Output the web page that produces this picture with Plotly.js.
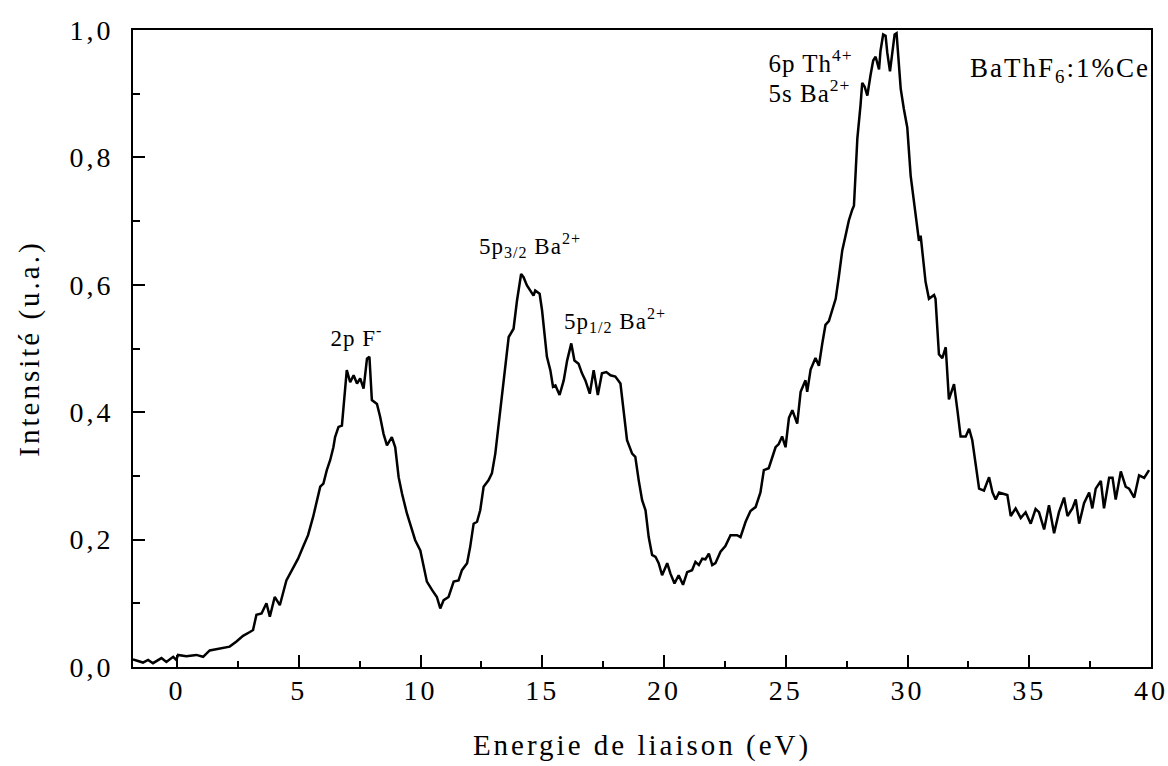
<!DOCTYPE html>
<html>
<head>
<meta charset="utf-8">
<script src="https://cdn.plot.ly/plotly-3.0.1.min.js"></script>
<style>
html,body{margin:0;padding:0;background:#fff;}
#chart{width:1168px;height:766px;}
#chart g.xtick text, #chart g.ytick text { letter-spacing: 3px; }
#chart text.xtitle, #chart text.ytitle { letter-spacing: 3px; }
#chart g.annotation text { letter-spacing: 1px; }
#chart g.annotation[data-index="5"] text { letter-spacing: 2px; }
</style>
</head>
<body>
<div id="chart"></div>
<script>
// Binding energy (eV)
const energy = [
 -1.81,-1.40,-1.19,-0.99,-0.64,-0.44,-0.16,-0.03,0.04,0.38,0.79,1.07,1.34,1.75,2.16,2.44,2.71,2.99,3.12,3.26,3.47,3.67,3.81,4.01,4.22,4.49,4.77,4.97,5.18,5.38,5.59,5.80,
 5.88,6.01,6.15,6.29,6.42,6.49,6.63,6.77,6.84,6.97,7.11,7.25,7.39,7.52,7.66,7.80,7.90,8.00,8.21,8.34,8.48,8.62,8.82,8.96,9.10,9.24,9.44,9.58,9.78,9.99,10.12,10.26,10.47,10.67,10.81,10.95,11.15,11.36,11.56,11.70,11.91,12.04,12.18,12.32,12.45,12.59,12.79,12.93,13.07,13.21,13.35,13.48,
 13.62,13.82,13.96,14.13,14.23,14.37,14.51,14.64,14.71,14.89,14.99,15.10,15.19,15.33,15.44,15.54,15.71,15.88,16.02,16.19,16.32,16.49,16.63,16.77,16.95,17.11,17.28,17.45,17.63,17.80,18.00,18.21,18.34,18.48,18.69,18.82,18.96,19.10,19.24,19.37,19.51,19.65,19.78,19.92,20.13,20.26,20.43,20.60,20.78,20.95,21.15,21.29,21.43,
 21.57,21.70,21.84,21.98,22.11,22.32,22.52,22.73,23.00,23.14,23.35,23.55,23.76,23.96,24.10,24.30,24.44,24.58,24.71,24.85,24.99,25.13,25.27,25.47,25.61,25.81,25.88,26.02,26.22,26.36,26.50,26.63,26.77,26.91,27.05,27.18,27.32,27.46,27.59,27.73,27.80,27.87,27.94,28.07,28.14,28.24,28.35,28.48,28.59,28.69,28.83,28.89,29.00,29.10,29.17,29.28,29.37,29.47,29.55,29.65,29.72,29.85,29.99,30.13,30.26,30.40,30.47,30.54,30.61,
 30.74,30.88,31.09,31.15,31.29,31.43,31.57,31.70,31.91,32.05,32.18,32.39,32.53,32.66,32.80,32.94,33.14,33.35,33.49,33.62,33.76,33.96,34.10,34.24,34.44,34.65,34.85,35.06,35.26,35.40,35.61,35.81,36.02,36.22,36.43,36.57,36.77,36.91,37.05,37.25,37.46,37.59,37.73,37.94,38.07,38.28,38.42,38.55,38.76,38.96,39.10,39.31,39.51,39.72,39.92
];
// Intensity (a.u.)
const intensity = [
 0.012,0.007,0.011,0.006,0.014,0.008,0.016,0.011,0.019,0.017,0.019,0.016,0.026,0.029,0.032,0.040,0.049,0.055,0.058,0.082,0.084,0.100,0.079,0.110,0.097,0.136,0.157,0.170,0.189,0.207,0.236,0.267,
 0.283,0.288,0.309,0.325,0.345,0.361,0.377,0.379,0.408,0.466,0.447,0.458,0.445,0.453,0.437,0.484,0.487,0.419,0.413,0.393,0.366,0.348,0.361,0.345,0.298,0.272,0.241,0.225,0.199,0.183,0.157,0.134,0.121,0.110,0.092,0.105,0.110,0.134,0.136,0.152,0.163,0.189,0.225,0.228,0.246,0.283,0.293,0.304,0.335,0.382,0.429,0.470,
 0.518,0.531,0.575,0.617,0.612,0.599,0.591,0.583,0.591,0.586,0.560,0.513,0.487,0.466,0.440,0.442,0.427,0.450,0.481,0.508,0.481,0.476,0.461,0.450,0.429,0.466,0.427,0.461,0.463,0.458,0.456,0.445,0.403,0.356,0.335,0.330,0.293,0.262,0.246,0.204,0.176,0.173,0.163,0.144,0.163,0.147,0.131,0.144,0.129,0.149,0.152,0.165,0.160,
 0.170,0.169,0.178,0.160,0.163,0.181,0.190,0.207,0.207,0.204,0.228,0.245,0.251,0.274,0.309,0.312,0.327,0.345,0.350,0.362,0.345,0.391,0.403,0.382,0.432,0.450,0.432,0.467,0.485,0.473,0.508,0.537,0.543,0.561,0.578,0.613,0.654,0.678,0.701,0.718,0.724,0.777,0.830,0.882,0.917,0.911,0.897,0.929,0.952,0.958,0.938,0.967,0.993,0.991,0.964,0.935,0.964,0.993,0.995,0.940,0.908,0.876,0.847,0.771,0.730,0.683,0.669,0.677,0.648,
 0.605,0.578,0.584,0.578,0.491,0.485,0.502,0.420,0.444,0.403,0.362,0.362,0.374,0.356,0.321,0.280,0.277,0.298,0.274,0.263,0.274,0.272,0.270,0.237,0.249,0.234,0.243,0.225,0.248,0.243,0.216,0.254,0.210,0.243,0.266,0.237,0.249,0.263,0.225,0.257,0.274,0.249,0.280,0.292,0.249,0.297,0.297,0.263,0.307,0.283,0.280,0.266,0.301,0.297,0.309
];
const xTitle = 'Energie de liaison (eV)';
const yTitle = 'Intensité (u.a.)';
const peakLabels = ['2p F<sup>-</sup>', '5p<sub>3/2</sub> Ba<sup>2+</sup>', '5p<sub>1/2</sub> Ba<sup>2+</sup>', '6p Th<sup>4+</sup>', '5s Ba<sup>2+</sup>'];
const peakLabelX = [7.36, 14.51, 18.0, 24.37, 24.37];
const peakLabelY = [0.519, 0.662, 0.544, 0.952, 0.905];
const sampleLabel = 'BaThF<sub>6</sub>:1%Ce';

const FONT = 'Liberation Serif, Times New Roman, serif';

const trace = {
  x: energy, y: intensity, type: 'scatter', mode: 'lines',
  line: {color: '#000', width: 2.5}, hoverinfo: 'skip'
};

const peakSizes = [23, 23, 23, 25, 25];
const annotations = peakLabels.map((t, i) => ({
  x: peakLabelX[i], y: peakLabelY[i], xref: 'x', yref: 'y', text: t,
  showarrow: false, font: {family: FONT, size: peakSizes[i], color: '#000'},
  xanchor: i >= 3 ? 'left' : 'center', yanchor: 'middle'
}));
annotations.push({
  x: 0.99, y: 0.937, xref: 'paper', yref: 'paper', text: sampleLabel,
  showarrow: false, font: {family: FONT, size: 27, color: '#000'},
  xanchor: 'right', yanchor: 'middle'
});

const layout = {
  width: 1168, height: 766,
  margin: {l: 133, r: 17, t: 30, b: 99},
  paper_bgcolor: '#fff', plot_bgcolor: '#fff',
  separators: ',.',
  showlegend: false,
  font: {family: FONT, color: '#000'},
  xaxis: {
    range: [-1.81, 40], tick0: 0, dtick: 5,
    ticks: 'inside', ticklen: 12, tickwidth: 2, tickcolor: '#000',
    minor: {ticks: 'inside', tick0: 0, dtick: 2.5, ticklen: 6, tickwidth: 2, tickcolor: '#000', showgrid: false},
    showline: true, linewidth: 2, linecolor: '#000', mirror: true,
    showgrid: false, zeroline: false,
    tickfont: {family: FONT, size: 28, color: '#000'},
    ticklabelstandoff: -3,
    title: {text: xTitle, font: {family: FONT, size: 29, color: '#000'}, standoff: 30}
  },
  yaxis: {
    range: [0, 1.0], tick0: 0, dtick: 0.2, tickformat: '.1f',
    ticks: 'inside', ticklen: 12, tickwidth: 2, tickcolor: '#000',
    minor: {ticks: 'inside', tick0: 0, dtick: 0.1, ticklen: 7, tickwidth: 2, tickcolor: '#000', showgrid: false},
    showline: true, linewidth: 2, linecolor: '#000', mirror: true,
    showgrid: false, zeroline: false,
    tickfont: {family: FONT, size: 28, color: '#000'},
    ticklabelstandoff: 12,
    title: {text: yTitle, font: {family: FONT, size: 29, color: '#000'}, standoff: 30}
  },
  annotations: annotations
};

Plotly.newPlot('chart', [trace], layout, {staticPlot: true, displayModeBar: false});
</script>
</body>
</html>
